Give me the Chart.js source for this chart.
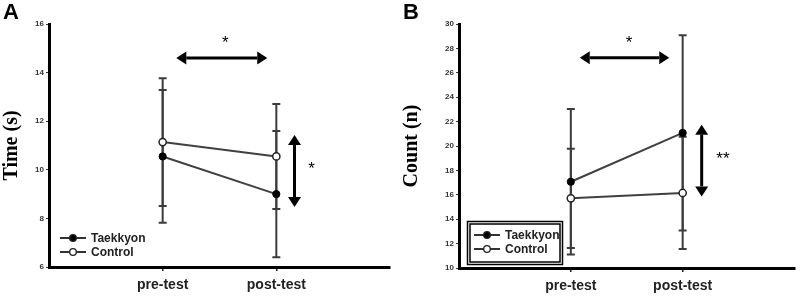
<!DOCTYPE html>
<html>
<head>
<meta charset="utf-8">
<script src="https://cdn.jsdelivr.net/npm/chart.js@4.4.0/dist/chart.umd.min.js"></script>
<style>
body { margin: 0; background: #fff; }
.wrap { display: flex; width: 800px; height: 302px; }
canvas { display: block; }
</style>
</head>
<body>
<div class="wrap">
  <canvas id="chartA" width="400" height="302"></canvas>
  <canvas id="chartB" width="400" height="302"></canvas>
</div>
<script>
var phases = ['pre-test', 'post-test'];
var phaseX = [1, 2];

// panel A - time (s)
var timeTaekkyon = [10.55, 9.0];
var timeTaekkyonSD = [2.73, 2.6];
var timeControl = [11.14, 10.55];
var timeControlSD = [2.63, 2.16];
var timeTicks = [6, 8, 10, 12, 14, 16];

// panel B - count (n)
var countTaekkyon = [17.07, 21.07];
var countTaekkyonSD = [5.97, 8.0];
var countControl = [15.71, 16.15];
var countControlSD = [4.07, 4.6];
var countTicks = [10, 12, 14, 16, 18, 20, 22, 24, 26, 28, 30];

function points(vals) {
    return vals.map(function (v, i) { return { x: phaseX[i], y: v }; });
}

var errorBars = {
    id: 'errorBars',
    beforeDatasetsDraw: function (chart) {
        var ctx = chart.ctx, xs = chart.scales.x, ys = chart.scales.y;
        ctx.save();
        ctx.strokeStyle = '#3c3c3c';
        ctx.lineWidth = 2;
        chart.data.datasets.forEach(function (ds) {
            ds.data.forEach(function (p, i) {
                var px = xs.getPixelForValue(p.x);
                var top = ys.getPixelForValue(p.y + ds.sd[i]);
                var bot = ys.getPixelForValue(p.y - ds.sd[i]);
                ctx.beginPath();
                ctx.moveTo(px, top); ctx.lineTo(px, bot);
                ctx.moveTo(px - 4, top); ctx.lineTo(px + 4, top);
                ctx.moveTo(px - 4, bot); ctx.lineTo(px + 4, bot);
                ctx.stroke();
            });
        });
        ctx.restore();
    }
};

function arrow(ctx, x1, y1, x2, y2) {
    var ang = Math.atan2(y2 - y1, x2 - x1);
    var len = 10, half = 6.5;
    ctx.beginPath();
    ctx.moveTo(x1 + Math.cos(ang) * len, y1 + Math.sin(ang) * len);
    ctx.lineTo(x2 - Math.cos(ang) * len, y2 - Math.sin(ang) * len);
    ctx.stroke();
    [[x1, y1, ang + Math.PI], [x2, y2, ang]].forEach(function (h) {
        var bx = h[0] - Math.cos(h[2]) * len, by = h[1] - Math.sin(h[2]) * len;
        ctx.beginPath();
        ctx.moveTo(h[0], h[1]);
        ctx.lineTo(bx + Math.cos(h[2] + Math.PI / 2) * half, by + Math.sin(h[2] + Math.PI / 2) * half);
        ctx.lineTo(bx - Math.cos(h[2] + Math.PI / 2) * half, by - Math.sin(h[2] + Math.PI / 2) * half);
        ctx.closePath();
        ctx.fill();
    });
}

// significance arrows and stars, given in axis units
var sigMarks = {
    id: 'sig',
    afterDraw: function (chart, args, opts) {
        var ctx = chart.ctx, xs = chart.scales.x, ys = chart.scales.y;
        ctx.save();
        ctx.strokeStyle = '#000';
        ctx.fillStyle = '#000';
        ctx.lineWidth = 3;
        (opts.arrows || []).forEach(function (a) {
            arrow(ctx, xs.getPixelForValue(a[0]), ys.getPixelForValue(a[1]),
                  xs.getPixelForValue(a[2]), ys.getPixelForValue(a[3]));
        });
        ctx.font = '17px "Liberation Sans", Arial, sans-serif';
        ctx.textAlign = 'center';
        ctx.textBaseline = 'middle';
        (opts.stars || []).forEach(function (s) {
            ctx.fillText(s[2], xs.getPixelForValue(s[0]), ys.getPixelForValue(s[1]));
        });
        ctx.restore();
    }
};

// little legend drawn inside the plot
var boxLegend = {
    id: 'boxLegend',
    afterDraw: function (chart, args, opts) {
        var ctx = chart.ctx;
        ctx.save();
        if (opts.box) {
            ctx.strokeStyle = '#000';
            ctx.lineWidth = 1.5;
            ctx.strokeRect(opts.box[0], opts.box[1], opts.box[2], opts.box[3]);
            ctx.strokeRect(opts.box[0] + 2.5, opts.box[1] + 2.5, opts.box[2] - 5, opts.box[3] - 5);
        }
        chart.data.datasets.forEach(function (ds, i) {
            var y = opts.y + i * 14;
            ctx.strokeStyle = '#333';
            ctx.lineWidth = 2;
            ctx.beginPath();
            ctx.moveTo(opts.x, y); ctx.lineTo(opts.x + 26, y);
            ctx.stroke();
            ctx.beginPath();
            ctx.arc(opts.x + 13, y, 3.3, 0, Math.PI * 2);
            ctx.fillStyle = ds.pointBackgroundColor;
            ctx.fill();
            ctx.lineWidth = 1.3;
            ctx.strokeStyle = '#222';
            ctx.stroke();
            ctx.fillStyle = '#222';
            ctx.font = 'bold 12px "Liberation Sans", Arial, sans-serif';
            ctx.textBaseline = 'middle';
            ctx.fillText(ds.label, opts.x + 31, y + 1);
        });
        ctx.restore();
    }
};

function makeChart(id, p) {
    return new Chart(document.getElementById(id), {
        type: 'line',
        data: {
            datasets: [{
                label: 'Taekkyon',
                data: points(p.taek),
                sd: p.taekSD,
                borderColor: '#404040',
                borderWidth: 2,
                pointRadius: 3.6,
                pointBackgroundColor: '#000',
                pointBorderColor: '#000',
                pointBorderWidth: 1
            }, {
                label: 'Control',
                data: points(p.ctrl),
                sd: p.ctrlSD,
                borderColor: '#404040',
                borderWidth: 2,
                pointRadius: 3.6,
                pointBackgroundColor: '#fff',
                pointBorderColor: '#222',
                pointBorderWidth: 1.5
            }]
        },
        options: {
            responsive: false,
            animation: false,
            layout: { padding: { left: 0, top: 24, right: p.right, bottom: 0 } },
            plugins: {
                legend: { display: false },
                tooltip: { enabled: false },
                sig: { arrows: p.arrows, stars: p.stars },
                boxLegend: p.legend
            },
            scales: {
                x: {
                    type: 'linear',
                    min: 0,
                    max: 3,
                    afterBuildTicks: function (axis) {
                        axis.ticks = phaseX.map(function (v) { return { value: v }; });
                    },
                    afterFit: function (axis) { axis.height = p.xHeight; },
                    border: { color: '#000', width: 3 },
                    grid: { drawOnChartArea: false, drawTicks: true, tickLength: 4, color: '#222', lineWidth: 1.5 },
                    ticks: {
                        padding: 6,
                        color: '#222',
                        font: { family: '"Liberation Sans", Arial, sans-serif', size: 14, weight: 'bold' },
                        callback: function (v) { return phases[phaseX.indexOf(v)]; }
                    }
                },
                y: {
                    min: p.ticks[0],
                    max: p.ticks[p.ticks.length - 1],
                    afterBuildTicks: function (axis) {
                        axis.ticks = p.ticks.map(function (v) { return { value: v }; });
                    },
                    afterFit: function (axis) { axis.width = p.yWidth; },
                    border: { color: '#000', width: 3 },
                    grid: { drawOnChartArea: false, drawTicks: true, tickLength: 3, color: '#333', lineWidth: 1 },
                    ticks: {
                        padding: 2,
                        color: '#333',
                        font: { family: '"Liberation Sans", Arial, sans-serif', size: 8, weight: 'bold' }
                    },
                    title: {
                        display: true,
                        text: p.title,
                        color: '#000',
                        padding: { top: 0, bottom: 0 },
                        font: { family: '"Liberation Serif", "Times New Roman", serif', size: 20, weight: 'bold' }
                    }
                }
            }
        },
        plugins: [errorBars, sigMarks, boxLegend, {
            id: 'panelLetter',
            afterDraw: function (chart) {
                var ctx = chart.ctx;
                ctx.save();
                ctx.fillStyle = '#000';
                ctx.font = 'bold 22px "Liberation Sans", Arial, sans-serif';
                ctx.textBaseline = 'top';
                ctx.fillText(p.letter, 3, 2);
                ctx.restore();
            }
        }]
    });
}

makeChart('chartA', {
    letter: 'A',
    title: 'Time (s)',
    taek: timeTaekkyon, taekSD: timeTaekkyonSD,
    ctrl: timeControl, ctrlSD: timeControlSD,
    ticks: timeTicks,
    yWidth: 49, xHeight: 35, right: 10,
    arrows: [[1.12, 14.6, 1.92, 14.6], [2.16, 11.43, 2.16, 8.47]],
    stars: [[1.55, 15.2, '*'], [2.31, 10.0, '*']],
    legend: { x: 60, y: 238 }
});

makeChart('chartB', {
    letter: 'B',
    title: 'Count (n)',
    taek: countTaekkyon, taekSD: countTaekkyonSD,
    ctrl: countControl, ctrlSD: countControlSD,
    ticks: countTicks,
    yWidth: 59, xHeight: 34, right: 5,
    arrows: [[1.08, 27.24, 1.88, 27.24], [2.17, 21.75, 2.17, 15.87]],
    stars: [[1.52, 28.45, '*'], [2.36, 18.9, '**']],
    legend: { x: 74, y: 235, box: [67.5, 221.5, 95, 43] }
});
</script>
</body>
</html>
